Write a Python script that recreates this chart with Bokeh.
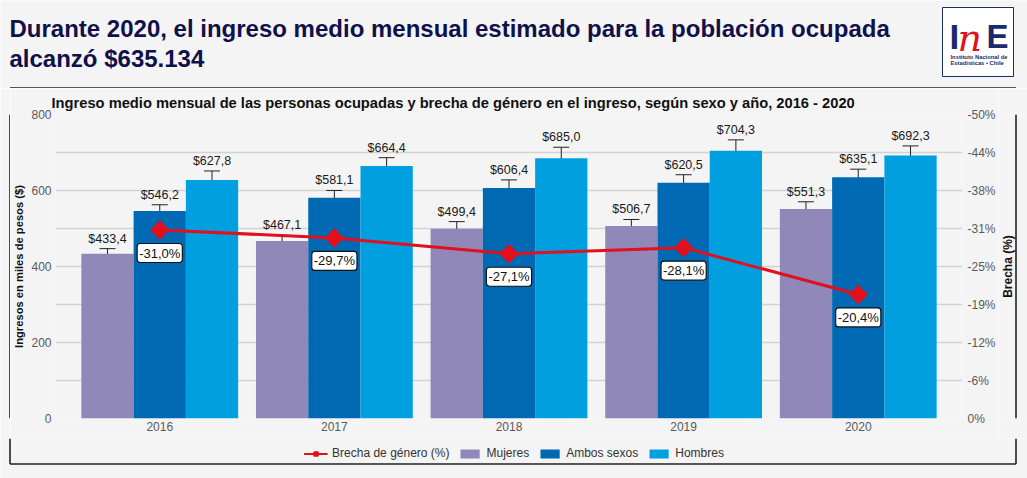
import math
import numpy as np
from bokeh.plotting import figure
from bokeh.layouts import column, row
from bokeh.models import (ColumnDataSource, Range1d, LinearAxis, FixedTicker, Whisker, TeeHead,
                          Legend, LegendItem)
from bokeh.core.properties import value
from bokeh.embed import file_html
from bokeh.resources import INLINE

# ---------------- data ----------------
years = ["2016", "2017", "2018", "2019", "2020"]
mujeres = [433.4, 467.1, 499.4, 506.7, 551.3]
ambos = [546.2, 581.1, 606.4, 620.5, 635.1]
hombres = [627.8, 664.4, 685.0, 704.3, 692.3]
err_mujeres = [13.6, 15.0, 18.7, 17.0, 19.0]
err_ambos = [16.3, 19.0, 21.5, 21.0, 21.0]
err_hombres = [23.6, 22.0, 28.8, 29.0, 25.0]
brecha = [-31.0, -29.7, -27.1, -28.1, -20.4]
left_ticks = [0, 200, 400, 600, 800]
grid_ticks = [0, 100, 200, 300, 400, 500, 600, 700, 800]
brecha_ticks = [0, -6.25, -12.5, -18.75, -25, -31.25, -37.5, -43.75, -50]
brecha_tick_labels = ["0%", "-6%", "-12%", "-19%", "-25%", "-31%", "-38%", "-44%", "-50%"]
series_names = ["Mujeres", "Ambos sexos", "Hombres"]
series_colors = ["#8f88b8", "#0069b3", "#009fe0"]
gap_name = "Brecha de género (%)"

main_title_1 = "Durante 2020, el ingreso medio mensual estimado para la población ocupada"
main_title_2 = "alcanzó $635.134"
chart_title = ("Ingreso medio mensual de las personas ocupadas y brecha de género en el ingreso, "
               "según sexo y año, 2016 - 2020")
left_axis_title = "Ingresos en miles de pesos ($)"
right_axis_title = "Brecha (%)"
logo_line_1 = "Instituto Nacional de"
logo_line_2 = "Estadísticas • Chile"

FONT = "Liberation Sans"
BG = "#f4f4f4"
RED = "#e2101d"
NAVY = "#10104a"
LOGO_NAVY = "#1a2a6a"
BORDER = "#222222"
BW = 1.6


def blank(width, height, xr, yr):
    return figure(width=width, height=height, output_backend="svg", toolbar_location=None,
                  x_range=Range1d(*xr), y_range=Range1d(*yr), x_axis_type=None, y_axis_type=None,
                  min_border=0, background_fill_color=BG, border_fill_color=BG,
                  outline_line_color=None, title=None)


def quiet_axis(ax):
    ax.axis_line_color = None
    ax.major_tick_line_color = None
    ax.minor_tick_line_color = None
    ax.major_tick_out = 0
    ax.major_tick_in = 0
    ax.minor_tick_out = 0
    ax.minor_tick_in = 0
    ax.major_label_text_font = FONT
    ax.major_label_text_font_size = "12px"
    ax.major_label_text_color = "#5a5a5a"


# ---------------- header (titles + logo) ----------------
header = blank(1027, 88, (0, 1027), (88, 0))
header.text(x=[9, 9], y=[28, 58], text=[main_title_1, main_title_2], text_font=value(FONT),
            text_font_size=value("24px"), text_font_style="bold", text_color=NAVY,
            text_baseline="middle", text_align="left")
header.quad(left=[942], right=[1013], top=[7], bottom=[76], fill_color="white",
            line_color=LOGO_NAVY, line_width=1)
header.text(x=[949], y=[36], text=["I"], text_font=value(FONT), text_font_size=value("35px"),
            text_font_style="bold", text_color=LOGO_NAVY, text_baseline="middle")
header.text(x=[957], y=[37], text=["n"], text_font=value("DejaVu Serif"),
            text_font_size=value("38px"), text_font_style="italic", text_color=RED,
            text_baseline="middle")
header.text(x=[986], y=[36], text=["E"], text_font=value(FONT), text_font_size=value("33px"),
            text_font_style="bold", text_color=LOGO_NAVY, text_baseline="middle")
header.text(x=[950, 950], y=[56, 62], text=[logo_line_1, logo_line_2], text_font=value(FONT),
            text_font_size=value("5.8px"), text_font_style="bold", text_color=LOGO_NAVY,
            text_baseline="middle")
header.segment(x0=[9.5], y0=[87.5], x1=[1015.5], y1=[87.5], line_color=BORDER, line_width=BW)

# ---------------- main chart ----------------
BAR_W = 0.2993
idx = np.arange(len(years))

p = figure(width=988, height=350, output_backend="svg", toolbar_location=None,
           x_range=Range1d(-0.597, 4.597), y_range=Range1d(0, 800),
           min_border_left=42, min_border_right=35, min_border_top=25, min_border_bottom=20,
           background_fill_color=BG, border_fill_color=BG, outline_line_color=None)
p.extra_y_ranges = {"brecha": Range1d(0, -50)}

p.title.text = chart_title
p.title.text_font = FONT
p.title.text_font_size = "14.7px"
p.title.text_font_style = "bold"
p.title.text_color = "#111111"
p.title.align = "left"
p.title.offset = -4
p.title.standoff = 8

p.xgrid.visible = False
p.ygrid.ticker = FixedTicker(ticks=grid_ticks)
p.ygrid.grid_line_color = "#d3d3d3"
p.ygrid.grid_line_width = 1.6

ya = p.yaxis[0]
quiet_axis(ya)
ya.ticker = FixedTicker(ticks=left_ticks)
ya.major_label_standoff = 4
ya.axis_label = left_axis_title
ya.axis_label_text_font = FONT
ya.axis_label_text_font_size = "11.2px"
ya.axis_label_text_font_style = "bold"
ya.axis_label_text_color = "#111111"
ya.axis_label_standoff = 3

xa = p.xaxis[0]
quiet_axis(xa)
xa.ticker = FixedTicker(ticks=list(idx))
xa.major_label_overrides = {int(i): y for i, y in zip(idx, years)}
xa.major_label_standoff = 3

ra = LinearAxis(y_range_name="brecha", ticker=FixedTicker(ticks=brecha_ticks),
                major_label_overrides=dict(zip(brecha_ticks, brecha_tick_labels)))
quiet_axis(ra)
ra.major_label_standoff = 5
p.add_layout(ra, "right")

for k, (vals, errs, col) in enumerate(zip([mujeres, ambos, hombres],
                                          [err_mujeres, err_ambos, err_hombres],
                                          series_colors)):
    v = np.array(vals)
    e = np.array(errs)
    src = ColumnDataSource(dict(
        x=idx + (k - 1) * BAR_W, top=v, up=v + e, lo=v - e,
        lab=["$" + f"{t:.1f}".replace(".", ",") for t in vals]))
    p.vbar(x="x", top="top", width=BAR_W, source=src, fill_color=col, line_color=None)
    p.add_layout(Whisker(source=src, base="x", upper="up", lower="lo",
                         line_color="#222222", line_width=1,
                         upper_head=TeeHead(size=16, line_color="#222222", line_width=1),
                         lower_head=TeeHead(size=16, line_color="#222222", line_width=1)))
    p.text(x="x", y="up", text="lab", source=src, text_align="center", text_baseline="bottom",
           y_offset=-3, text_font=value(FONT), text_font_size=value("12.5px"), text_color="#1a1a1a")

bsrc = ColumnDataSource(dict(x=idx, y=brecha,
                             lab=[f"{b:.1f}%".replace(".", ",") for b in brecha]))
p.line(x="x", y="y", source=bsrc, y_range_name="brecha", line_color=RED, line_width=3)
p.scatter(x="x", y="y", source=bsrc, y_range_name="brecha", marker="square", angle=np.pi / 4,
          size=13, fill_color=RED, line_color=RED)
p.text(x="x", y="y", text="lab", source=bsrc, y_range_name="brecha", y_offset=23,
       text_align="center", text_baseline="middle", text_font=value(FONT),
       text_font_size=value("13px"), text_color="#111111",
       background_fill_color="white", border_line_color="#111111", border_line_width=1.2,
       padding=2, border_radius=3)

# side strips: left/right edges of the chart box, and the right axis title
left_strip = blank(10, 350, (0, 10), (350, 0))
left_strip.segment(x0=[9.5], y0=[0], x1=[9.5], y1=[350], line_color=BORDER, line_width=BW)
right_strip = blank(29, 350, (0, 29), (350, 0))
right_strip.segment(x0=[17.5], y0=[0], x1=[17.5], y1=[350], line_color=BORDER, line_width=BW)
right_strip.text(x=[9], y=[175], text=[right_axis_title], angle=math.pi / 2,
                 text_align="center", text_baseline="middle", text_font=value(FONT),
                 text_font_size=value("12px"), text_font_style="bold", text_color="#111111")

# ---------------- footer: legend + bottom edge ----------------
footer = blank(1027, 40, (0, 1027), (40, 0))
footer.segment(x0=[9.5, 1015.5, 9.5], y0=[0, 0, 25.5], x1=[9.5, 1015.5, 1015.5],
               y1=[25.5, 25.5, 25.5], line_color=BORDER, line_width=BW)
# legend-only renderers (their points lie outside the visible range)
hidden = ColumnDataSource(dict(x=[-500, -499], y=[-500, -500], top=[-500, -500]))
lg_line = footer.line(x="x", y="y", source=hidden, line_color=RED, line_width=2)
lg_mark = footer.scatter(x="x", y="y", source=hidden, marker="square", angle=np.pi / 4, size=4,
                         fill_color=RED, line_color=RED)
lg_bars = [footer.vbar(x="x", top="top", width=1, source=hidden, fill_color=c, line_color=None)
           for c in series_colors]
legend = Legend(items=[LegendItem(label=gap_name, renderers=[lg_line, lg_mark])] +
                [LegendItem(label=n, renderers=[r]) for n, r in zip(series_names, lg_bars)],
                orientation="horizontal", location="top_center",
                background_fill_alpha=0, border_line_color=None,
                label_text_font=FONT, label_text_font_size="12px", label_text_color="#333333",
                glyph_width=24, glyph_height=11, spacing=8, label_standoff=5, padding=0, margin=8)
footer.add_layout(legend)

layout = column(header, row(left_strip, p, right_strip), footer)

html = file_html(layout, INLINE)
open("out.html", "w").write(html)
